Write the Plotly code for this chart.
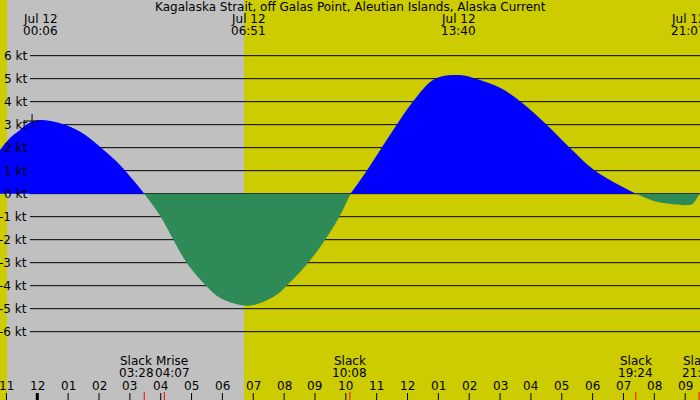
import plotly.graph_objects as go

# ---- data (hours since midnight Jul 12, knots) ----
hours = [-1.21, -0.885, -0.56, -0.24, 0.1, 0.74, 1.38, 2.03, 2.68, 3.1, 3.47,
         4.0, 4.41, 4.84, 5.47, 5.95, 6.85, 7.7, 8.08, 8.78, 9.33, 9.79, 10.15,
         10.68, 11.16, 11.65, 12.17, 12.89, 13.67, 14.35, 15.0, 15.67, 16.51,
         17.26, 18.08, 19.4, 20.08, 20.6, 21.0, 21.25, 21.4, 21.47]
speed = [1.9, 2.42, 2.77, 3.09, 3.2, 3.06, 2.7, 2.04, 1.25, 0.6, 0.0,
         -1.0, -2.0, -3.0, -4.0, -4.55, -4.87, -4.45, -4.0, -3.0, -2.0, -1.0, 0.0,
         1.0, 2.0, 3.0, 4.0, 5.0, 5.16, 4.94, 4.6, 4.0, 3.0,
         2.0, 1.0, 0.0, -0.35, -0.46, -0.5, -0.44, -0.15, 0.0]

extreme_hours = [0.1, 6.85, 13.667, 21.117]
extreme_dates = ["Jul 12", "Jul 12", "Jul 12", "Jul 12"]
extreme_times = ["00:06", "06:51", "13:40", "21:07"]

event_hours = [3.467, 4.117, 10.133, 19.4, 21.45]
event_names = ["Slack", "Mrise", "Slack", "Slack", "Slack"]
event_times = ["03:28", "04:07", "10:08", "19:24", "21:27"]
event_shift = [-8, 8, 0, 0, 0]

tick_hours = list(range(-1, 22))
tick_text = ["11", "12", "01", "02", "03", "04", "05", "06", "07", "08", "09", "10",
             "11", "12", "01", "02", "03", "04", "05", "06", "07", "08", "09"]

kt_levels = [6, 5, 4, 3, 2, 1, 0, -1, -2, -3, -4, -5, -6]
night_start, night_end = -0.98, 6.70
marker_hour, marker_speed = -0.17, 3.16

title = "Kagalaska Strait, off Galas Point, Aleutian Islands, Alaska Current"

FONT = "DejaVu Sans"
FS = 12
YELLOW = "#cccc00"
GRAY = "#c0c0c0"
BLUE = "#0000ff"
GREEN = "#2e8b57"

pos = [v if v >= 0 else None for v in speed]
neg = [v if v <= 0 else None for v in speed]

fig = go.Figure()
fig.add_trace(go.Scatter(x=hours, y=pos, mode="lines", fill="tozeroy",
                         fillcolor=BLUE, line=dict(color=BLUE, width=0, shape="spline"),
                         connectgaps=False, hoverinfo="skip"))
fig.add_trace(go.Scatter(x=hours, y=neg, mode="lines", fill="tozeroy",
                         fillcolor=GREEN, line=dict(color=GREEN, width=0, shape="spline"),
                         connectgaps=False, hoverinfo="skip"))
fig.add_trace(go.Scatter(x=[marker_hour], y=[marker_speed], mode="markers",
                         marker=dict(symbol="cross-thin-open", size=10, color="black",
                                     line=dict(color="black", width=1)),
                         hoverinfo="skip"))

shapes = []
shapes.append(dict(type="rect", xref="x", yref="paper", x0=night_start, x1=night_end,
                   y0=0, y1=1, fillcolor=GRAY, line=dict(width=0), layer="below"))
for k in kt_levels:
    shapes.append(dict(type="line", xref="paper", yref="y", x0=30 / 700, x1=1,
                       y0=k, y1=k, line=dict(color="black", width=1), layer="below"))
for h in tick_hours:
    w = 3 if h == 0 else 1
    shapes.append(dict(type="line", xref="x", yref="paper", x0=h, x1=h,
                       y0=0, y1=7 / 400, line=dict(color="black", width=w)))
for h in event_hours:
    shapes.append(dict(type="line", xref="x", yref="paper", x0=h, x1=h,
                       y0=0, y1=8 / 400, line=dict(color="red", width=1)))


def txt(text, x, py, xref="x", xshift=0, xanchor="center", yref="paper", y=None):
    return dict(text=text, xref=xref, yref=yref, x=x,
                y=(1 - py / 400) if y is None else y,
                xanchor=xanchor, yanchor="middle", showarrow=False, xshift=xshift,
                font=dict(family=FONT, size=FS, color="black"))


ann = [txt(title, 0.5, 7, xref="paper")]
for h, d, t in zip(extreme_hours, extreme_dates, extreme_times):
    ann.append(txt(d, h, 19))
    ann.append(txt(t, h, 31))
for h, n, t, s in zip(event_hours, event_names, event_times, event_shift):
    ann.append(txt(n, h, 361, xshift=s))
    ann.append(txt(t, h, 373, xshift=s))
for h, t in zip(tick_hours, tick_text):
    ann.append(txt(t, h, 386))
for k in kt_levels:
    ann.append(txt(f"{k} kt", 29 / 700, 0, xref="paper", xanchor="right", yref="y", y=k))

fig.update_layout(
    width=700, height=400, margin=dict(l=0, r=0, t=0, b=0),
    paper_bgcolor=YELLOW, plot_bgcolor=YELLOW, showlegend=False,
    xaxis=dict(range=[-1.209, 21.48], visible=False, fixedrange=True),
    yaxis=dict(range=[-8.97, 8.42], visible=False, fixedrange=True),
    shapes=shapes, annotations=ann,
)
fig.write_html("out.html", config={"displayModeBar": False})
